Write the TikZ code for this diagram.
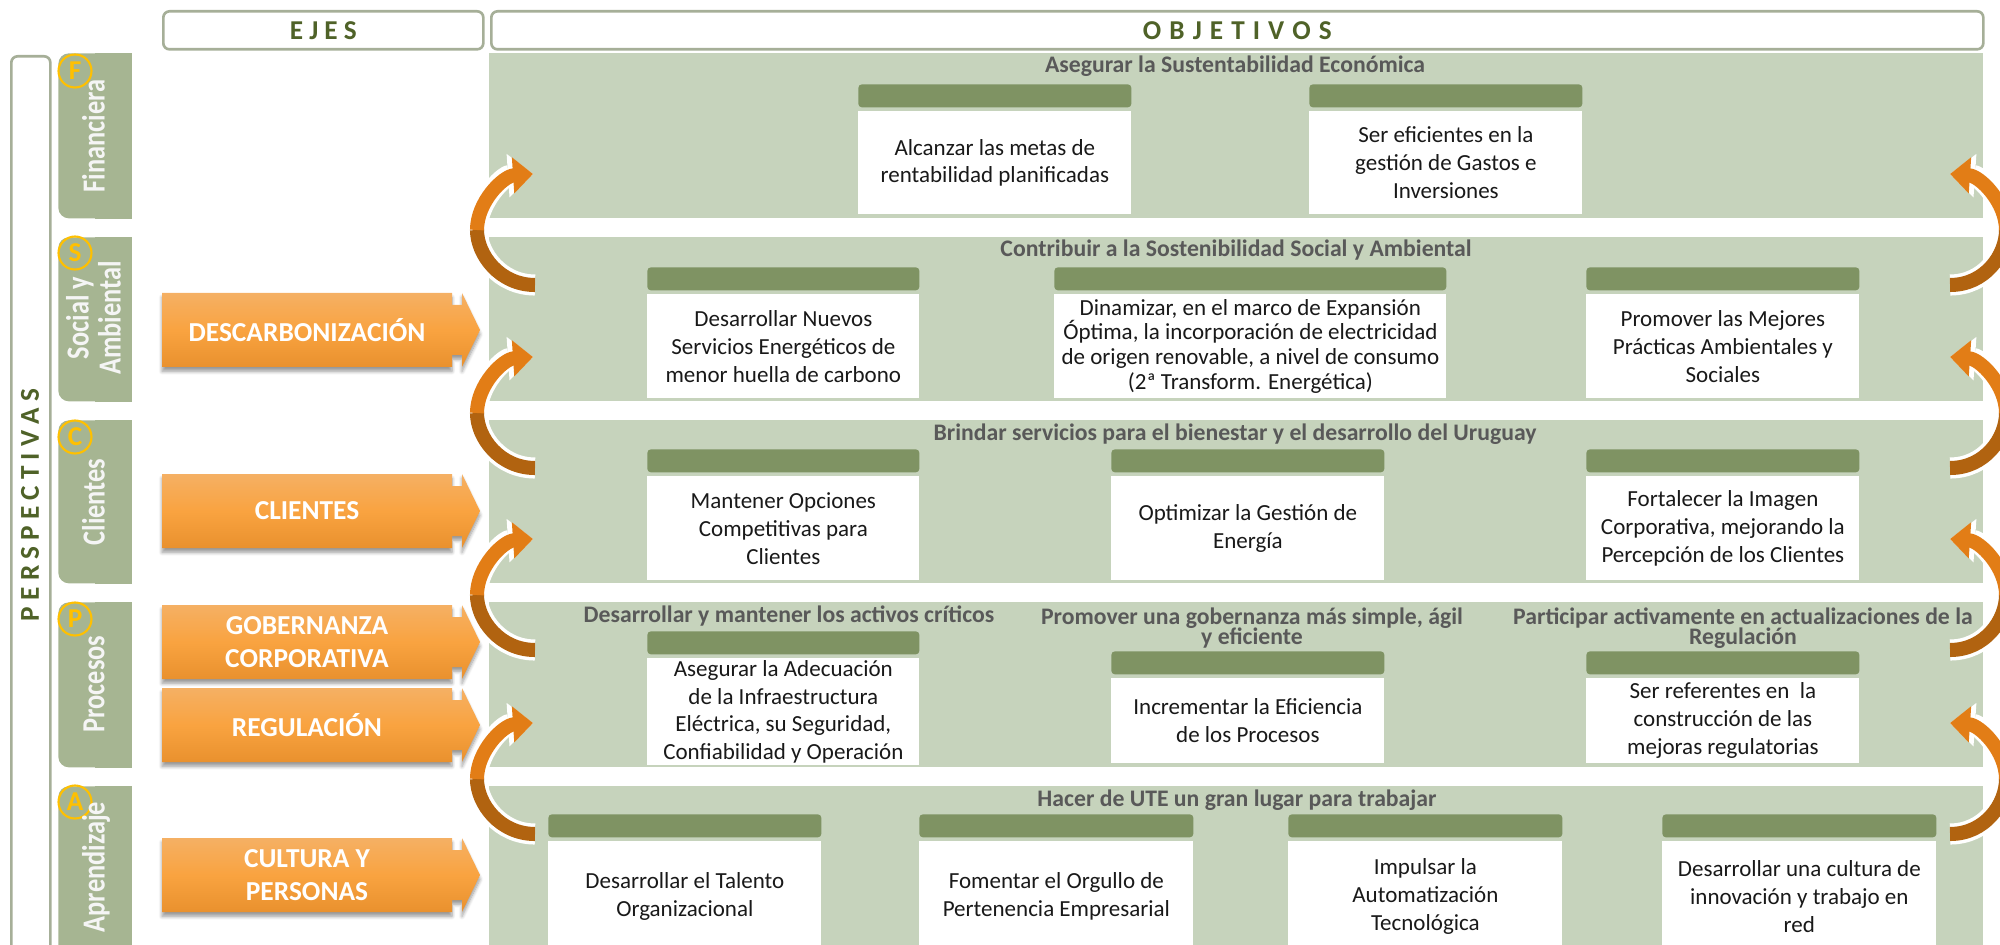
\documentclass[tikz,border=0pt]{standalone}
\usepackage{fontspec}
\setmainfont{Carlito}
\usepackage{graphicx}
\usepackage{tikz}
\usetikzlibrary{arrows.meta,calc,shadows.blur}
\newlength\px
\setlength\px{0.02cm}
\newcommand{\tightlines}{\lineskiplimit-5pt\relax}
\newcommand{\widesp}{\spaceskip 4.6pt\relax}
\newcommand{\tabl}[1]{\scalebox{1}[1.22]{\fontsize{15}{14.6}\selectfont\bfseries
  \begin{tabular}{@{}c@{}}#1\end{tabular}}}
\definecolor{bandc}{RGB}{198,211,188}
\definecolor{tabc}{RGB}{166,181,146}
\definecolor{headc}{RGB}{127,147,99}
\definecolor{framec}{RGB}{166,175,152}
\definecolor{ttlc}{RGB}{89,89,89}
\definecolor{capc}{RGB}{79,98,40}
\definecolor{yelc}{RGB}{255,192,0}
\definecolor{ejetop}{RGB}{245,176,100}
\definecolor{ejemid}{RGB}{249,163,64}
\definecolor{ejebot}{RGB}{233,145,46}
\definecolor{cycor}{RGB}{226,125,22}
\definecolor{cycbr}{RGB}{177,99,16}
\tikzset{
  wh/.style 2 args={minimum width=(#1)*\px, minimum height=(#2)*\px},
  framebox/.style={draw=framec, line width=1.5pt, fill=white, rounded corners=3.5pt,
    inner sep=0pt, anchor=north west},
  band/.style={fill=bandc, inner sep=0pt, anchor=north west},
  tabbox/.style={fill=tabc, inner sep=0pt, anchor=north west, rounded corners=6pt},
  tabtxt/.style={rotate=90, text=white!96!black, inner sep=0pt},
  circlet/.style={circle, draw=yelc, line width=1.2pt, text=yelc, inner sep=0pt,
    minimum size=0.66cm, font=\fontsize{15.5}{15.5}\selectfont\bfseries},
  colhead/.style={text=capc, font=\fontsize{15.5}{16}\selectfont\bfseries},
  bttl/.style={text=ttlc, align=center,
    font=\fontsize{13.5}{11.6}\selectfont\bfseries\tightlines},
  objhead/.style={fill=headc, rounded corners=2pt, inner sep=0pt, anchor=north west},
  objbody/.style={fill=white, inner sep=1pt, anchor=north west, align=center,
    text=black!90, font=\fontsize{13.1}{15.9}\selectfont},
  ejefill/.style={top color=ejetop, bottom color=ejebot, middle color=ejemid,
    blur shadow={shadow xshift=0pt, shadow yshift=-2.5pt, shadow blur steps=6}},
  ejetxt/.style={text=white, align=center, font=\fontsize{15.6}{19}\selectfont\bfseries},
  ringw/.style={draw=white, line width=12pt, -{Triangle[length=0.5cm,width=0.84cm]}},
  ringbr/.style={draw=cycbr, line width=8pt},
  ringor/.style={draw=cycor, line width=8pt, -{Triangle[length=0.4cm,width=0.7cm]}}
}
% objective: header bar + white body
\newcommand{\objbox}[6]{%
  \node[objhead, wh={#3}{23}] (#1h) at (#2,#4) {};
  \node[objbody, wh={#3}{#5}] (#1) at (#2,#4+27) {#6};
}
% eje arrow
\newcommand{\ejearrow}[3]{%
  \shade[ejefill] (162,#2-37) -- (452,#2-37) -- (452,#2-25) -- (462,#2-25) -- (462,#2-37)
    -- (480,#2) -- (462,#2+37) -- (462,#2+25) -- (452,#2+25) -- (452,#2+37)
    -- (162,#2+37) -- cycle;
  \node[ejetxt] (#1) at (307,#2) {#3};
}

\begin{document}
\begin{tikzpicture}[x=\px, y=-\px]
  \useasboundingbox (0,0) rectangle (2000,945);
  \clip (0,0) rectangle (2000,945);

  % column heads
  \node[framebox, wh={320}{38}] (ejes) at (162,10) {};
  \node[colhead] (ejesT) at (ejes.center) {E J E S};
  \node[framebox, wh={1492}{38}] (obj) at (490,10) {};
  \node[colhead] (objT) at (obj.center) {\widesp O B J E T I V O S};

  % perspectives
  \node[framebox, wh={39}{950}] (persp) at (10,55) {};
  \node[colhead, rotate=90] (perspT) at (30,505) {P E R S P E C T I V A S};

  \foreach \nm/\y/\h in {F/53/165, S/237/164, C/420/163, P/602/165, A/786/175} {
    \node[tabbox, wh={73}{\h}] (t\nm) at (58,\y) {};
    \fill[tabc] (t\nm.north) rectangle (t\nm.south east);
    \node[band, wh={1494}{\h}] (b\nm) at (489,\y) {};
  }
  \foreach \nm/\y in {F/71, S/253, C/437, P/619, A/802}
    \node[circlet] (c\nm) at (75,\y) {\nm};
  \node[tabtxt] (lF) at (98,136) {\tabl{Financiera}};
  \node[tabtxt] (lS) at (98,318) {\tabl{Social y\\Ambiental}};
  \node[tabtxt] (lC) at (98,502) {\tabl{Clientes}};
  \node[tabtxt] (lP) at (98,684) {\tabl{Procesos}};
  \node[tabtxt] (lA) at (98,867) {\tabl{Aprendizaje}};

  % band titles
  \node[bttl] (ttF) at (1235,66) {Asegurar la Sustentabilidad Económica};
  \node[bttl] (ttS) at (1236,250) {Contribuir a la Sostenibilidad Social y Ambiental};
  \node[bttl] (ttC) at (1235,434) {Brindar servicios para el bienestar y el desarrollo del Uruguay};
  \node[bttl] (ttP1) at (789,616) {Desarrollar y mantener los activos críticos};
  \node[bttl] (ttP2) at (1252,628) {Promover una gobernanza más simple, ágil\\y eficiente};
  \node[bttl] (ttP3) at (1743,628) {Participar activamente en actualizaciones de la\\Regulación};
  \node[bttl] (ttA) at (1237,800) {Hacer de UTE un gran lugar para trabajar};

  % objectives
  \objbox{oF1}{858}{273}{84}{103}{Alcanzar las metas de\\rentabilidad planificadas}
  \objbox{oF2}{1309}{273}{84}{103}{Ser eficientes en la\\gestión de Gastos e\\Inversiones}
  \objbox{oS1}{647}{272}{267}{104}{Desarrollar Nuevos\\Servicios Energéticos de\\menor huella de carbono}
  \objbox{oS2}{1054}{392}{267}{104}{Dinamizar, en el marco de Expansión\\[-1.8pt]Óptima, la incorporación de electricidad\\[-1.8pt]de origen renovable, a nivel de consumo\\[-1.8pt](2ª Transform. Energética)}
  \objbox{oS3}{1586}{273}{267}{104}{Promover las Mejores\\Prácticas Ambientales y\\Sociales}
  \objbox{oC1}{647}{272}{449}{104}{Mantener Opciones\\Competitivas para\\Clientes}
  \objbox{oC2}{1111}{273}{449}{104}{Optimizar la Gestión de\\Energía}
  \objbox{oC3}{1586}{273}{449}{104}{Fortalecer la Imagen\\Corporativa, mejorando la\\Percepción de los Clientes}
  \objbox{oP1}{647}{272}{631}{104}{Asegurar la Adecuación\\de la Infraestructura\\Eléctrica, su Seguridad,\\Confiabilidad y Operación}
  \objbox{oP2}{1111}{273}{651}{85}{Incrementar la Eficiencia\\de los Procesos}
  \objbox{oP3}{1586}{273}{651}{85}{Ser referentes en\ \ la\\construcción de las\\mejoras regulatorias}
  \objbox{oA1}{548}{273}{814}{110}{Desarrollar el Talento\\Organizacional}
  \objbox{oA2}{919}{274}{814}{110}{Fomentar el Orgullo de\\Pertenencia Empresarial}
  \objbox{oA3}{1288}{274}{814}{110}{Impulsar la\\Automatización\\Tecnológica}
  \objbox{oA4}{1662}{274}{814}{110}{Desarrollar una cultura de\\innovación y trabajo en\\red}

  % ejes
  \ejearrow{eD}{330}{DESCARBONIZACIÓN}
  \ejearrow{eC}{511}{CLIENTES}
  \ejearrow{eG}{642}{GOBERNANZA\\CORPORATIVA}
  \ejearrow{eR}{725}{REGULACIÓN}
  \ejearrow{eP}{875}{CULTURA Y\\PERSONAS}

  % cycle arrows between bands
  \foreach \g [count=\i] in {227,410,592,776} {
    \coordinate (lt\i) at (535,\g+58);
    \coordinate (lm\i) at (477,\g+3);
    \coordinate (lh\i) at (533,\g-53);
    \coordinate (rt\i) at (1950,\g+58);
    \coordinate (rm\i) at (2006,\g+3);
    \coordinate (rh\i) at (1950,\g-53);
    \draw[ringw] (lt\i) .. controls +(-35,0) and +(0,25) .. (lm\i)
      .. controls +(0,-28) and +(-30,2) .. (lh\i);
    \draw[ringbr] (lt\i) .. controls +(-35,0) and +(0,25) .. (lm\i);
    \draw[ringor] (lm\i) .. controls +(0,-28) and +(-30,2) .. (lh\i);
    \draw[ringw] (rt\i) .. controls +(35,0) and +(0,25) .. (rm\i)
      .. controls +(0,-28) and +(30,2) .. (rh\i);
    \draw[ringbr] (rt\i) .. controls +(35,0) and +(0,25) .. (rm\i);
    \draw[ringor] (rm\i) .. controls +(0,-28) and +(30,2) .. (rh\i);
  }
\end{tikzpicture}
\end{document}
